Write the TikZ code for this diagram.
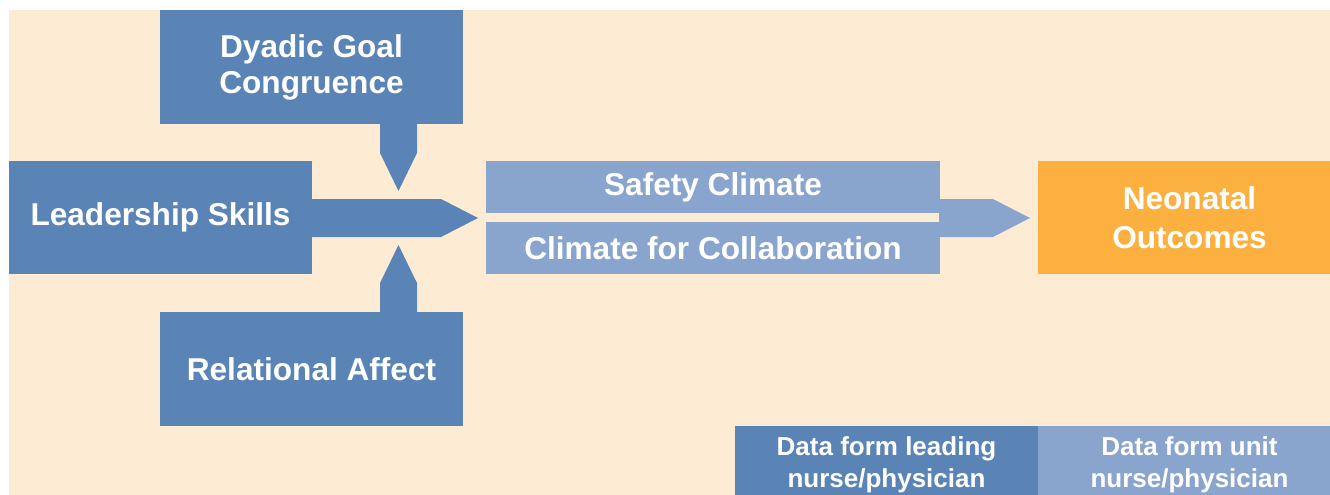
\documentclass[tikz,border=0pt]{standalone}
\usepackage{fontspec}
\setmainfont{Liberation Sans}
\usetikzlibrary{calc}
\definecolor{dblue}{RGB}{91,132,182}
\definecolor{lblue}{RGB}{138,165,205}
\definecolor{outcome}{RGB}{251,176,64}
\definecolor{peach}{RGB}{253,235,212}
\begin{document}
\begin{tikzpicture}[x=1pt,y=-1pt,
  box/.style={rectangle, inner sep=0pt, outer sep=0pt, minimum width=303pt,
    text=white, align=center, font=\bfseries\fontsize{31.6}{36}\selectfont},
  key/.style={box, font=\bfseries\fontsize{26}{32}\selectfont, minimum height=78pt}]
\useasboundingbox (0,0) rectangle (1330,495);
% background panel
\fill[peach] (9,10) rectangle (1345,505);

% predictor boxes
\node[box, fill=dblue, minimum height=114pt] (dyad) at (311.5,67) {Dyadic Goal\\Congruence};
\node[box, fill=dblue, minimum height=113pt] (lead) at (160.5,217.5) {Leadership Skills};
\node[box, fill=dblue, minimum height=114pt] (rel) at (311.5,369) {Relational Affect};

% climate boxes
\node[box, fill=lblue, minimum width=454pt, minimum height=52pt] (safety) at (713,187) {Safety Climate};
\node[box, fill=lblue, minimum width=454pt, minimum height=52pt] (collab) at (713,248) {Climate for Collaboration};

% outcome box
\node[box, fill=outcome, minimum height=113pt, font=\bfseries\fontsize{31.6}{39}\selectfont] (neo) at (1189.5,217.5) {Neonatal\\Outcomes};

% legend (boxes run past the lower and right edges)
\node[key, fill=dblue] (keylead) at (886.5,465) {Data form leading\\nurse/physician};
\node[key, fill=lblue] (keyunit) at (1189.5,465) {Data form unit\\nurse/physician};

% arrow tips
\coordinate (ttip) at (398.5,191);
\coordinate (btip) at (398.5,245);
\coordinate (ltip) at (478,218);
\coordinate (ntip) at (1030,218);

% block arrow from Dyadic Goal Congruence (pointing down)
\fill[dblue] ($(dyad.south -| ttip)+(-18.5,-1)$) -- ($(dyad.south -| ttip)+(18.5,-1)$)
  -- ($(ttip)+(18.5,-38)$) -- (ttip) -- ($(ttip)+(-18.5,-38)$) -- cycle;
% block arrow from Relational Affect (pointing up)
\fill[dblue] ($(rel.north -| btip)+(-18.5,1)$) -- ($(rel.north -| btip)+(18.5,1)$)
  -- ($(btip)+(18.5,38)$) -- (btip) -- ($(btip)+(-18.5,38)$) -- cycle;
% block arrow from Leadership Skills to the climate boxes
\fill[dblue] ($(lead.east |- ltip)+(-1,-19)$) -- ($(ltip)+(-37,-19)$) -- (ltip)
  -- ($(ltip)+(-37,19)$) -- ($(lead.east |- ltip)+(-1,19)$) -- cycle;
% block arrow from the climate boxes to Neonatal Outcomes
\fill[lblue] ($(safety.east |- ntip)+(-1,-19)$) -- ($(ntip)+(-37,-19)$) -- (ntip)
  -- ($(ntip)+(-37,19)$) -- ($(safety.east |- ntip)+(-1,19)$) -- cycle;
\end{tikzpicture}
\end{document}
